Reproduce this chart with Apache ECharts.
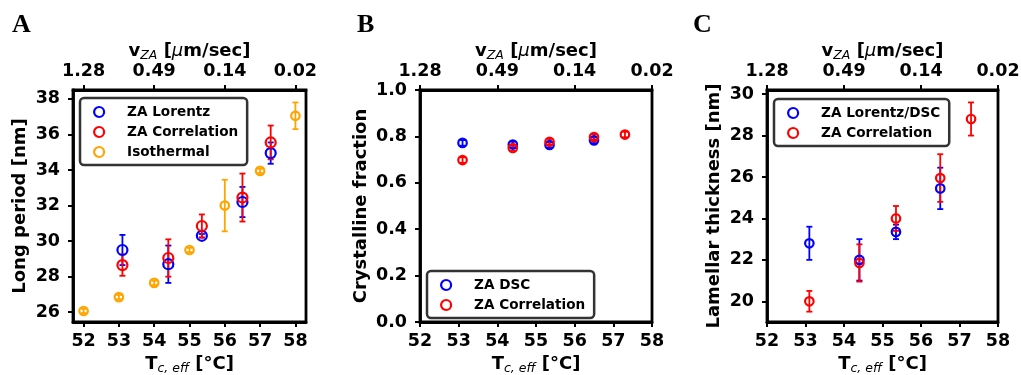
<!DOCTYPE html>
<html>
<head>
<meta charset="utf-8">
<script src="https://cdn.jsdelivr.net/npm/echarts@6/dist/echarts.min.js"></script>
<style>
  html, body { margin: 0; padding: 0; background: #fff; }
  #container { width: 1021px; height: 375px; }
</style>
</head>
<body>
<div id="container"></div>
<script>
// ---- data ----
var isoT = [52, 53, 54, 55, 56, 57, 58];
var isoLP = [26.07, 26.85, 27.65, 29.5, 32.0, 33.95, 37.05];
var isoLPErr = [0.12, 0.12, 0.12, 0.12, 1.45, 0.12, 0.75];

var zaT = [53.1, 54.4, 55.35, 56.5, 57.3];
var lorLP = [29.5, 28.7, 30.3, 32.2, 34.95];
var lorLPErr = [0.85, 1.05, 0.1, 0.85, 0.6];
var corLP = [28.65, 29.05, 30.85, 32.45, 35.55];
var corLPErr = [0.6, 1.05, 0.65, 1.35, 0.95];

var dscT = [53.1, 54.4, 55.35, 56.5];
var dscFrac = [0.772, 0.765, 0.763, 0.783];
var dscFracErr = [0.012, 0.012, 0.012, 0.012];
var corFrac = [0.698, 0.75, 0.777, 0.797, 0.808];
var corFracErr = [0.012, 0.012, 0.012, 0.012, 0.012];

var lorLT = [22.8, 22.0, 23.35, 25.45];
var lorLTErr = [0.8, 1.0, 0.35, 1.0];
var corLT = [20.0, 21.85, 24.0, 25.95, 28.8];
var corLTErr = [0.5, 0.9, 0.6, 1.15, 0.8];

var tTicks = [52, 53, 54, 55, 56, 57, 58];
var vTicks = [52, 54, 56, 58];
var vLabels = ['1.28', '0.49', '0.14', '0.02'];
var lpTicks = [26, 28, 30, 32, 34, 36, 38];
var ltTicks = [20, 22, 24, 26, 28, 30];

var BLUE = '#0000ff', RED = '#ff0000', ORANGE = '#ffa500';
var FONT = 'DejaVu Sans';

var myChart = echarts.init(document.getElementById('container'));

function pts(xs, ys) {
	return xs.map(function (x, i) { return [x, ys[i]]; });
}
function errs(xs, ys, es) {
	return xs.map(function (x, i) { return [x, ys[i] - es[i], ys[i] + es[i]]; });
}

// vertical error bar with caps, placed through the axes
function errRender(params, api) {
	var x = api.value(0);
	var lo = api.coord([x, api.value(1)]);
	var hi = api.coord([x, api.value(2)]);
	var cap = 3;
	var st = { stroke: api.visual('color'), lineWidth: 1.8 };
	return {
		type: 'group',
		children: [
			{ type: 'line', shape: { x1: lo[0], y1: lo[1], x2: hi[0], y2: hi[1] }, style: st },
			{ type: 'line', shape: { x1: lo[0] - cap, y1: lo[1], x2: lo[0] + cap, y2: lo[1] }, style: st },
			{ type: 'line', shape: { x1: hi[0] - cap, y1: hi[1], x2: hi[0] + cap, y2: hi[1] }, style: st }
		]
	};
}

function errSeries(name, idx, data, color) {
	return {
		name: name,
		type: 'custom',
		xAxisIndex: idx * 2,
		yAxisIndex: idx,
		renderItem: errRender,
		itemStyle: { color: color },
		encode: { x: 0, y: [1, 2] },
		data: data,
		silent: true
	};
}
function dotSeries(name, idx, data, color, size) {
	return {
		name: name,
		type: 'scatter',
		xAxisIndex: idx * 2,
		yAxisIndex: idx,
		symbol: 'circle',
		symbolSize: size,
		itemStyle: { color: 'rgba(0,0,0,0)', borderColor: color, borderWidth: 2.2, opacity: 1 },
		data: data
	};
}

var tickLabel = { color: '#000', fontFamily: FONT, fontWeight: 'bold', fontSize: 17.5 };
var axisLine = { show: true, lineStyle: { color: '#000', width: 2.8 } };
var axisTick = { show: true, inside: false, length: 5, lineStyle: { color: '#000', width: 2 } };

var nameRich = {
	b: { fontFamily: FONT, fontWeight: 'bold', fontSize: 18, color: '#000' },
	s: { fontFamily: FONT, fontStyle: 'italic', fontSize: 12.5, color: '#000', padding: [9, 0, 0, 0] },
	i: { fontFamily: FONT, fontStyle: 'italic', fontSize: 18, color: '#000' }
};

var grids = [
	{ left: 73, top: 90, width: 233, height: 232 },
	{ left: 420, top: 90, width: 232, height: 232 },
	{ left: 767, top: 90, width: 231, height: 232 }
];
var xRanges = [[51.7, 58.3], [52, 58], [52, 58]];

var xAxes = [];
grids.forEach(function (g, k) {
	xAxes.push({
		type: 'value', gridIndex: k, position: 'bottom',
		min: xRanges[k][0], max: xRanges[k][1],
		splitLine: { show: false },
		axisLine: axisLine,
		axisTick: Object.assign({ customValues: tTicks }, axisTick),
		axisLabel: Object.assign({ customValues: tTicks, margin: 10.5 }, tickLabel),
		name: '{b|T}{s|c, eff}{b| [°C]}',
		nameLocation: 'middle', nameGap: 31,
		nameTextStyle: { rich: nameRich }
	});
	xAxes.push({
		type: 'value', gridIndex: k, position: 'top',
		min: xRanges[k][0], max: xRanges[k][1],
		splitLine: { show: false },
		axisLine: axisLine,
		axisTick: Object.assign({ customValues: vTicks }, axisTick),
		axisLabel: Object.assign({
			customValues: vTicks, margin: 10,
			formatter: function (v) { return vLabels[vTicks.indexOf(Math.round(v))]; }
		}, tickLabel),
		name: '{b|v}{s|ZA}{b| [}{i|μ}{b|m/sec]}',
		nameLocation: 'middle', nameGap: 27.5, nameMoveOverlap: false,
		nameTextStyle: { rich: nameRich }
	});
});

var yAxes = [
	{
		type: 'value', gridIndex: 0, min: 25.45, max: 38.5,
		splitLine: { show: false }, axisLine: axisLine,
		axisTick: Object.assign({ customValues: lpTicks }, axisTick),
		axisLabel: Object.assign({ customValues: lpTicks, margin: 13 }, tickLabel),
		name: 'Long period [nm]', nameLocation: 'middle', nameGap: 44,
		nameTextStyle: { fontFamily: FONT, fontWeight: 'bold', fontSize: 18, color: '#000' }
	},
	{
		type: 'value', gridIndex: 1, min: 0, max: 1, interval: 0.2,
		splitLine: { show: false }, axisLine: axisLine, axisTick: axisTick,
		axisLabel: Object.assign({ margin: 13, formatter: function (v) { return v.toFixed(1); } }, tickLabel),
		name: 'Crystalline fraction', nameLocation: 'middle', nameGap: 50,
		nameTextStyle: { fontFamily: FONT, fontWeight: 'bold', fontSize: 18, color: '#000' }
	},
	{
		type: 'value', gridIndex: 2, min: 19.0, max: 30.2,
		splitLine: { show: false }, axisLine: axisLine,
		axisTick: Object.assign({ customValues: ltTicks }, axisTick),
		axisLabel: Object.assign({ customValues: ltTicks, margin: 13 }, tickLabel),
		name: 'Lamellar thickness [nm]', nameLocation: 'middle', nameGap: 44,
		nameTextStyle: { fontFamily: FONT, fontWeight: 'bold', fontSize: 18, color: '#000' }
	}
];

function legendBox(left, top, items) {
	return {
		orient: 'vertical', left: left, top: top,
		backgroundColor: '#fff', borderColor: '#333', borderWidth: 2.5, borderRadius: 4,
		padding: [6, 9, 5, 13], itemGap: 4, itemWidth: 10, itemHeight: 10,
		selectedMode: false,
		textStyle: { fontFamily: FONT, fontWeight: 'bold', fontSize: 13.6, color: '#000', lineHeight: 16, padding: [0, 0, 0, 18] },
		data: items.map(function (it) {
			return { name: it[0], icon: 'circle', itemStyle: { color: 'rgba(0,0,0,0)', borderColor: it[1], borderWidth: 2.2 } };
		})
	};
}

myChart.setOption({
	animation: false,
	grid: grids.map(function (g) {
		return Object.assign({
			show: true, borderColor: '#000', borderWidth: 2.8, backgroundColor: '#fff',
			containLabel: false, outerBoundsMode: 'none'
		}, g);
	}),
	xAxis: xAxes,
	yAxis: yAxes,
	legend: [
		legendBox(80, 98, [['ZA Lorentz', BLUE], ['ZA Correlation', RED], ['Isothermal', ORANGE]]),
		legendBox(427, 271, [['ZA DSC', BLUE], ['ZA Correlation', RED]]),
		legendBox(774, 99, [['ZA Lorentz/DSC', BLUE], ['ZA Correlation', RED]])
	],
	graphic: [
		{ type: 'text', left: 12, top: 12, style: { text: 'A', font: 'bold 26px "Liberation Serif"', fill: '#000' } },
		{ type: 'text', left: 357, top: 12, style: { text: 'B', font: 'bold 26px "Liberation Serif"', fill: '#000' } },
		{ type: 'text', left: 693, top: 12, style: { text: 'C', font: 'bold 26px "Liberation Serif"', fill: '#000' } }
	],
	series: [
		// panel A
		errSeries('lorLP err', 0, errs(zaT, lorLP, lorLPErr), BLUE),
		dotSeries('ZA Lorentz', 0, pts(zaT, lorLP), BLUE, 10),
		errSeries('corLP err', 0, errs(zaT, corLP, corLPErr), RED),
		dotSeries('ZA Correlation', 0, pts(zaT, corLP), RED, 10),
		errSeries('iso err', 0, errs(isoT, isoLP, isoLPErr), ORANGE),
		dotSeries('Isothermal', 0, pts(isoT, isoLP), ORANGE, 8.5),
		// panel B
		errSeries('dsc err', 1, errs(dscT, dscFrac, dscFracErr), BLUE),
		dotSeries('ZA DSC', 1, pts(dscT, dscFrac), BLUE, 8.5),
		errSeries('corFrac err', 1, errs(zaT, corFrac, corFracErr), RED),
		dotSeries('ZA Correlation', 1, pts(zaT, corFrac), RED, 8.5),
		// panel C
		errSeries('lorLT err', 2, errs(dscT, lorLT, lorLTErr), BLUE),
		dotSeries('ZA Lorentz/DSC', 2, pts(dscT, lorLT), BLUE, 8.5),
		errSeries('corLT err', 2, errs(zaT, corLT, corLTErr), RED),
		dotSeries('ZA Correlation', 2, pts(zaT, corLT), RED, 8.5)
	]
});

window.addEventListener('resize', function () {
	myChart.resize();
});
</script>
</body>
</html>
